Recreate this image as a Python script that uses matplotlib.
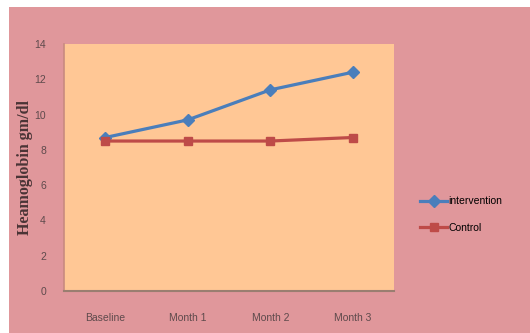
import matplotlib.pyplot as plt
from matplotlib.patches import Rectangle

categories = ["Baseline", "Month 1", "Month 2", "Month 3"]
intervention = [8.7, 9.7, 11.4, 12.4]
control = [8.5, 8.5, 8.5, 8.7]
y_ticks = [0, 2, 4, 6, 8, 10, 12, 14]

W, H = 530, 333
fig = plt.figure(figsize=(W / 100, H / 100), dpi=100)
fig.patch.set_facecolor("white")

# pink chart area, leaving a thin white margin top and left
fig.patches.append(Rectangle((9 / W, 0), 1, 1 - 7 / H, transform=fig.transFigure,
                             facecolor="#E0979B", edgecolor="none", zorder=-10))

left, right, top, bottom = 64, 394, 44, 291
ax = fig.add_axes([left / W, 1 - bottom / H, (right - left) / W, (bottom - top) / H])
ax.set_facecolor("#FFC795")

x = range(len(categories))
ax.plot(x, intervention, color="#4A7EBB", lw=2.3, marker="D", ms=6,
        label="intervention", zorder=3)
ax.plot(x, control, color="#BE4B48", lw=2.3, marker="s", ms=6,
        label="Control", zorder=3)

ax.set_xlim(-0.5, len(categories) - 0.5)
ax.set_ylim(0, 14)
ax.set_yticks(y_ticks)
ax.set_xticks(list(x))
ax.set_xticklabels(categories)
ax.tick_params(length=0, labelsize=7.5, labelcolor="#5E4A4C")
ax.tick_params(axis="x", pad=16)
ax.tick_params(axis="y", pad=13)
for lab in ax.get_xticklabels() + ax.get_yticklabels():
    lab.set_family("Liberation Sans")

for s in ["top", "right"]:
    ax.spines[s].set_visible(False)
ax.spines["left"].set_color("#C88A80")
ax.spines["left"].set_linewidth(1.2)
ax.spines["bottom"].set_color("#9A7E70")
ax.spines["bottom"].set_linewidth(1.5)

ax.set_ylabel("Heamoglobin gm/dl", family="Liberation Serif", fontweight="bold",
              fontsize=11.5, color="#4A3436")
ax.yaxis.set_label_coords(-0.095, 0.5)

fig.legend(loc="upper left", bbox_to_anchor=(411 / W, 1 - 187 / H), frameon=False,
           handlelength=2.6, handletextpad=0.1, labelspacing=1.6,
           prop={"family": "Liberation Sans", "size": 7.5})

fig.savefig("out.png", dpi=100)
